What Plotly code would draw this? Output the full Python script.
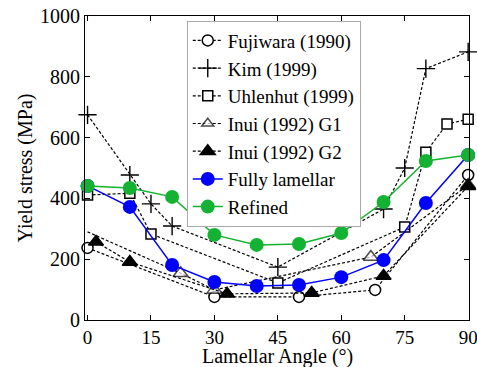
import plotly.graph_objects as go

fuji_x = [0, 30, 50, 68, 90]
fuji_y = [237, 76, 76, 99, 477]
kim_x = [0, 10, 15, 20, 45, 70, 75, 80, 90]
kim_y = [675, 477, 382, 309, 174, 365, 500, 827, 882]
uhl_x = [0, 10, 15, 45, 75, 80, 85, 90]
uhl_y = [411, 417, 283, 122, 306, 552, 645, 660]
g1_x = [0, 22, 30, 67, 90]
g1_y = [290, 154, 99, 207, 444]
g2_x = [2, 10, 33, 53, 70, 90]
g2_y = [257, 191, 86, 89, 145, 440]
fl_x = [0, 10, 20, 30, 40, 50, 60, 70, 80, 90]
fl_y = [441, 372, 181, 125, 112, 115, 141, 197, 385, 543]
ref_x = [0, 10, 20, 30, 40, 50, 60, 70, 80, 90]
ref_y = [441, 434, 405, 280, 247, 250, 286, 388, 523, 543]

FONT = "Times New Roman"
dash = "3px,2px"
fig = go.Figure()

def dashed(name, x, y, symbol, size=10, fill="white", sizes=None):
    fig.add_trace(go.Scatter(
        x=x, y=y, name=name, mode="lines+markers", cliponaxis=False,
        line=dict(color="black", width=1.2, dash=dash),
        marker=dict(symbol=symbol, size=sizes if sizes else size, color=fill,
                    line=dict(color="black", width=1.5)),
    ))

dashed("Fujiwara (1990)", fuji_x, fuji_y, "circle", 11)
fig.add_trace(go.Scatter(
    x=kim_x, y=kim_y, name="Kim (1999)", mode="lines+markers", cliponaxis=False,
    line=dict(color="black", width=1.2, dash=dash),
    marker=dict(symbol="cross-thin", size=13, color="black",
                line=dict(color="black", width=1.4)),
))
dashed("Uhlenhut (1999)", uhl_x, uhl_y, "square", 10)
dashed("Inui (1992) G1", g1_x, g1_y, "triangle-up", 13,
       sizes=[0] + [13] * (len(g1_x) - 1))
dashed("Inui (1992) G2", g2_x, g2_y, "triangle-up", 13, fill="black")

fig.add_trace(go.Scatter(
    x=fl_x, y=fl_y, name="Fully lamellar", mode="lines+markers", cliponaxis=False,
    line=dict(color="#0000FF", width=1.5),
    marker=dict(symbol="circle", size=14, color="#0000FF"),
))
fig.add_trace(go.Scatter(
    x=ref_x, y=ref_y, name="Refined", mode="lines+markers", cliponaxis=False,
    line=dict(color="#14B232", width=1.5),
    marker=dict(symbol="circle", size=14, color="#14B232"),
))

axis_common = dict(
    showline=True, linecolor="black", linewidth=1, mirror="ticks",
    ticks="inside", ticklen=5, tickcolor="black", showgrid=False,
    zeroline=False, automargin=False, ticklabeloverflow="allow",
)
fig.update_xaxes(range=[-0.6, 90.2], tickvals=[0, 15, 30, 45, 60, 75, 90],
                 tickfont=dict(family=FONT, size=19, color="black"),
                 **axis_common)
fig.update_yaxes(range=[0, 1000], tickvals=[0, 200, 400, 600, 800, 1000],
                 tickfont=dict(family=FONT, size=20, color="black"),
                 title=dict(text="Yield stress (MPa)", standoff=2,
                            font=dict(family=FONT, size=20, color="black")),
                 **axis_common)

fig.add_annotation(text="Lamellar Angle (°)", x=0.5, y=0, xref="paper",
                   yref="paper", xanchor="center", yanchor="top", yshift=-24,
                   showarrow=False, borderpad=0,
                   font=dict(family=FONT, size=20, color="black"))

fig.update_layout(
    width=477, height=367,
    margin=dict(l=85, r=8, t=16, b=47),
    paper_bgcolor="white", plot_bgcolor="white",
    font=dict(family=FONT, size=19, color="black"),
    legend=dict(x=0.265, y=0.985, xanchor="left", yanchor="top",
                bgcolor="white", bordercolor="#AAAAAA", borderwidth=1,
                font=dict(family=FONT, size=19), tracegroupgap=0,
                itemwidth=30),
)

fig.write_html("out.html", config={"displayModeBar": False},
               post_script="document.body.style.margin='0';document.body.style.overflow='hidden';")
